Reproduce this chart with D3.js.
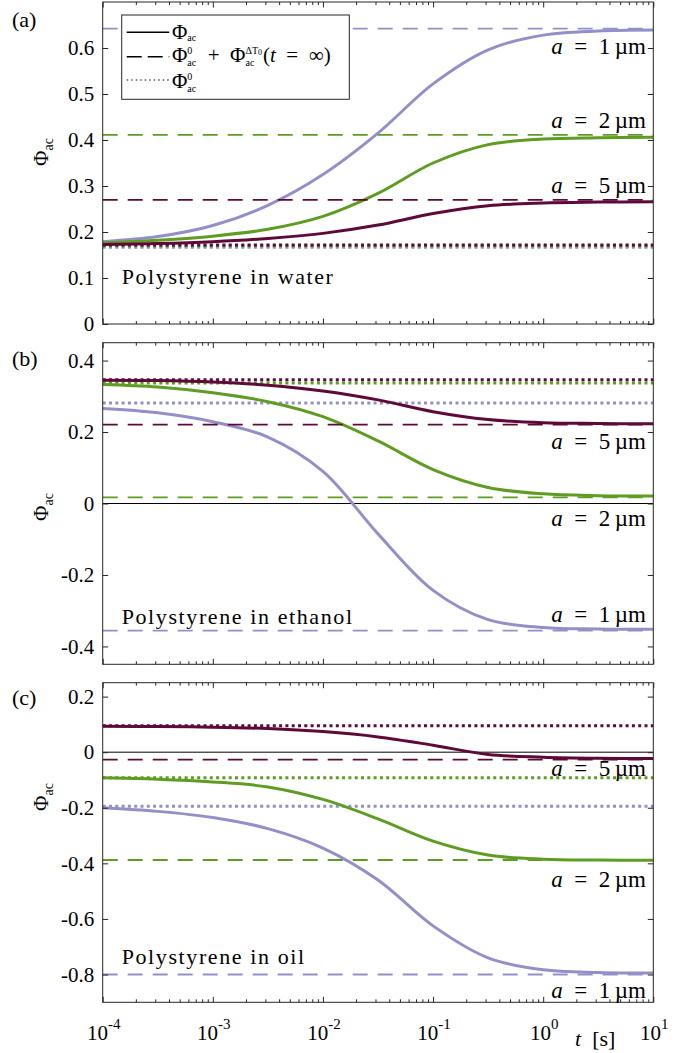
<!DOCTYPE html>
<html><head><meta charset="utf-8">
<script src="https://cdn.jsdelivr.net/npm/d3@7"></script>
<style>
body{margin:0;background:#fff}
svg{display:block}
text{font-family:"Liberation Serif","Times New Roman",serif;fill:#000}
</style>
</head><body><svg id="c" width="695" height="1053"></svg>
<script>
// ---------- DATA ----------
const times = [1e-4, 3.162e-4, 1e-3, 3.162e-3, 1e-2, 3.162e-2, 1e-1, 3.162e-1, 1, 3.162, 10];
const radii = ["1", "2", "5"];
const seriesColors = ["#938FC9", "#5E9C22", "#5E0A39"];

// Polystyrene in water: Phi_ac(t) for a = 1, 2, 5 µm
const water1 = [0.179, 0.19, 0.214, 0.258, 0.325, 0.415, 0.522, 0.596, 0.628, 0.637, 0.639];
const water2 = [0.176, 0.182, 0.191, 0.206, 0.234, 0.284, 0.35, 0.39, 0.402, 0.405, 0.406];
const water5 = [0.173, 0.175, 0.179, 0.186, 0.197, 0.215, 0.24, 0.257, 0.263, 0.265, 0.266];
const waterDashed = [0.642, 0.411, 0.27];
const waterDotted = [0.167, 0.170, 0.172];

// Polystyrene in ethanol
const ethanol1 = [0.266, 0.254, 0.229, 0.186, 0.09, -0.085, -0.243, -0.325, -0.347, -0.351, -0.352];
const ethanol2 = [0.333, 0.326, 0.31, 0.285, 0.243, 0.175, 0.095, 0.045, 0.027, 0.022, 0.021];
const ethanol5 = [0.345, 0.344, 0.34, 0.331, 0.315, 0.29, 0.257, 0.235, 0.226, 0.224, 0.223];
const ethanolDashed = [-0.356, 0.017, 0.221];
const ethanolDotted = [0.281, 0.337, 0.346];

// Polystyrene in oil
const oil1 = [-0.2, -0.213, -0.235, -0.275, -0.345, -0.46, -0.625, -0.74, -0.783, -0.793, -0.795];
const oil2 = [-0.092, -0.097, -0.107, -0.125, -0.17, -0.24, -0.32, -0.37, -0.385, -0.388, -0.389];
const oil5 = [0.093, 0.092, 0.09, 0.085, 0.074, 0.055, 0.025, -0.008, -0.018, -0.022, -0.023];
const oilDashed = [-0.8, -0.388, -0.027];
const oilDotted = [-0.195, -0.092, 0.095];

const waterTicks = [0, 0.1, 0.2, 0.3, 0.4, 0.5, 0.6];
const ethanolTicks = [-0.4, -0.2, 0, 0.2, 0.4];
const oilTicks = [-0.8, -0.6, -0.4, -0.2, 0, 0.2];
const xMajorTicks = [1e-4, 1e-3, 1e-2, 1e-1, 1, 10];
const xTickExponents = ["-4", "-3", "-2", "-1", "0", "1"];
const panelLetters = ["(a)", "(b)", "(c)"];
const liquids = ["water", "ethanol", "oil"];

// ---------- LAYOUT ----------
const svg = d3.select("#c");
const X0 = 102.7, X1 = 653.3;
const x = d3.scaleLog().domain([1e-4, 10]).range([X0, X1]);
const axisCol = "#262626";
const EN = "\u2002";

const panels = [
  {top: 2, bottom: 324, domain: [0, 0.7], ticks: waterTicks, curves: [water1, water2, water5],
   dashed: waterDashed, dotted: waterDotted, zero: false,
   sizeLabelY: [54, 128, 193], liquidY: 284, letterY: 27, ylabelY: 152},
  {top: 342.7, bottom: 664.3, domain: [-0.45, 0.45], ticks: ethanolTicks, curves: [ethanol1, ethanol2, ethanol5],
   dashed: ethanolDashed, dotted: ethanolDotted, zero: true,
   sizeLabelY: [622, 526, 449], liquidY: 624, letterY: 366, ylabelY: 507},
  {top: 682.7, bottom: 1002.3, domain: [-0.9, 0.25], ticks: oilTicks, curves: [oil1, oil2, oil5],
   dashed: oilDashed, dotted: oilDotted, zero: true,
   sizeLabelY: [998, 887, 776], liquidY: 964, letterY: 705, ylabelY: 797}
];

const xMinor = [];
xMajorTicks.slice(0, -1).forEach(d => { for (let k = 2; k <= 9; k++) xMinor.push(d * k); });

panels.forEach((p, pi) => {
  const y = d3.scaleLinear().domain(p.domain).range([p.bottom, p.top]);
  const g = svg.append("g");
  const clipId = "clip" + pi;
  svg.append("clipPath").attr("id", clipId).append("rect")
    .attr("x", X0).attr("y", p.top).attr("width", X1 - X0).attr("height", p.bottom - p.top);
  const plot = g.append("g").attr("clip-path", `url(#${clipId})`);

  const line = d3.line().x((d, i) => x(times[i])).y(d => y(d)).curve(d3.curveCatmullRom.alpha(0.5));

  if (p.zero) {
    plot.append("line").attr("x1", X0).attr("x2", X1).attr("y1", y(0)).attr("y2", y(0))
      .attr("stroke", "#000").attr("stroke-width", 1);
  }
  p.curves.forEach((vals, si) => {
    const col = seriesColors[si];
    plot.append("path").datum(vals).attr("d", line).attr("fill", "none")
      .attr("stroke", col).attr("stroke-width", 3);
    plot.append("line").attr("x1", X0).attr("x2", X1)
      .attr("y1", y(p.dashed[si])).attr("y2", y(p.dashed[si]))
      .attr("stroke", col).attr("stroke-width", 1.8).attr("stroke-dasharray", "15,10");
    plot.append("line").attr("x1", X0).attr("x2", X1)
      .attr("y1", y(p.dotted[si])).attr("y2", y(p.dotted[si]))
      .attr("stroke", col).attr("stroke-width", 3).attr("stroke-dasharray", "3,3.3");
  });

  const ax = (gen) => { const a = g.append("g"); a.call(gen); a.select(".domain").remove();
    a.selectAll("line").attr("stroke", axisCol); return a; };
  ax(d3.axisBottom(x).tickValues(xMinor).tickSize(-3).tickFormat("")).attr("transform", `translate(0,${p.bottom})`);
  ax(d3.axisBottom(x).tickValues(xMajorTicks).tickSize(-5.5).tickFormat("")).attr("transform", `translate(0,${p.bottom})`);
  ax(d3.axisTop(x).tickValues(xMinor).tickSize(-3).tickFormat("")).attr("transform", `translate(0,${p.top})`);
  ax(d3.axisTop(x).tickValues(xMajorTicks).tickSize(-5.5).tickFormat("")).attr("transform", `translate(0,${p.top})`);
  const yl = ax(d3.axisLeft(y).tickValues(p.ticks).tickSize(-5.5).tickPadding(8.5)
    .tickFormat(v => Math.abs(v) < 1e-9 ? "0" : String(+v.toFixed(1))))
    .attr("transform", `translate(${X0},0)`);
  yl.selectAll("text").attr("fill", "#000").style("font-size", "21px")
    .style("font-family", "'Liberation Serif',serif");
  ax(d3.axisRight(y).tickValues(p.ticks).tickSize(-5.5).tickFormat("")).attr("transform", `translate(${X1},0)`);

  g.append("rect").attr("x", X0).attr("y", p.top).attr("width", X1 - X0).attr("height", p.bottom - p.top)
    .attr("fill", "none").attr("stroke", axisCol).attr("stroke-width", 1);

  radii.forEach((r, si) => {
    const t = g.append("text").attr("x", 646).attr("y", p.sizeLabelY[si]).attr("text-anchor", "end")
      .style("font-size", "23px");
    t.append("tspan").style("font-style", "italic").text("a");
    t.append("tspan").text(EN + "=" + EN + r + "\u2009µm");
  });
  g.append("text").attr("x", 121.7).attr("y", p.liquidY).style("font-size", "22px")
    .style("letter-spacing", "1.6px").text("Polystyrene in " + liquids[pi]);
  svg.append("text").attr("x", 12).attr("y", p.letterY).style("font-size", "22px").text(panelLetters[pi]);
  const ylab = svg.append("text").attr("transform", `translate(48,${p.ylabelY}) rotate(-90)`)
    .attr("text-anchor", "middle").style("font-size", "21px");
  ylab.append("tspan").text("Φ");
  ylab.append("tspan").attr("dy", 5).style("font-size", "14px").text("ac");
});

xMajorTicks.forEach((v, i) => {
  const t = svg.append("text").attr("x", x(v) + 1).attr("y", 1040).attr("text-anchor", "middle").style("font-size", "21px");
  t.append("tspan").text("10");
  t.append("tspan").attr("dy", -11).style("font-size", "15px").text(xTickExponents[i]);
});
const tl = svg.append("text").attr("x", 575).attr("y", 1046).style("font-size", "22px");
tl.append("tspan").style("font-style", "italic").text("t");
tl.append("tspan").text(EN + "[s]");

// ---------- LEGEND ----------
// LaTeX-like stacked scripts: sup and sub each in their own small text element
function mathText(sel, x0, yb, parts, fs, supDy, subDy) {
  let cx = x0;
  const sfs = 10, ssfs = 8, ssDy = 1.2;
  for (const p of parts) {
    if (p.t !== undefined) {
      const el = sel.append("text").attr("x", cx).attr("y", yb).style("font-size", fs + "px").text(p.t);
      if (p.it) el.style("font-style", "italic");
      cx += el.node().getComputedTextLength();
    } else {
      let w = 0;
      if (p.sup) {
        const e = sel.append("text").attr("x", cx).attr("y", yb + supDy).style("font-size", sfs + "px");
        e.append("tspan").text(p.sup);
        if (p.supsub) e.append("tspan").attr("dy", ssDy).style("font-size", ssfs + "px").text(p.supsub);
        w = Math.max(w, e.node().getComputedTextLength());
      }
      if (p.sub) {
        const e = sel.append("text").attr("x", cx).attr("y", yb + subDy).style("font-size", sfs + "px").text(p.sub);
        w = Math.max(w, e.node().getComputedTextLength());
      }
      cx += w + 1;
    }
  }
  return cx;
}
const lg = svg.append("g");
lg.append("rect").attr("x", 121.7).attr("y", 15).attr("width", 227.6).attr("height", 84.3)
  .attr("fill", "#fff").attr("stroke", axisCol).attr("stroke-width", 1);
const legendRows = [
  {dash: null, lineY: 32.3, base: 39.3, subDy: 1.2, parts: [{t: "Φ"}, {sub: "ac"}]},
  {dash: "15,6", lineY: 56.7, base: 61.7, subDy: 4, parts: [{t: "Φ"}, {sup: "0", sub: "ac"}, {t: EN + "+" + EN + "Φ"}, {sup: "ΔT", supsub: "0", sub: "ac"}, {t: "("}, {t: "t", it: true}, {t: EN + "=" + EN + "∞)"}]},
  {dash: "1.5,3", lineY: 80, base: 87.5, subDy: 4, parts: [{t: "Φ"}, {sup: "0", sub: "ac"}]}
];
legendRows.forEach((r, i) => {
  const l = lg.append("line").attr("x1", 126.7).attr("x2", 169.3).attr("y1", r.lineY).attr("y2", r.lineY)
    .attr("stroke", "#000").attr("stroke-width", i === 2 ? 1 : 1.6);
  if (r.dash) l.attr("stroke-dasharray", r.dash);
  mathText(lg, 172, r.base, r.parts, 21, -8, r.subDy);
});
</script>
</body></html>
